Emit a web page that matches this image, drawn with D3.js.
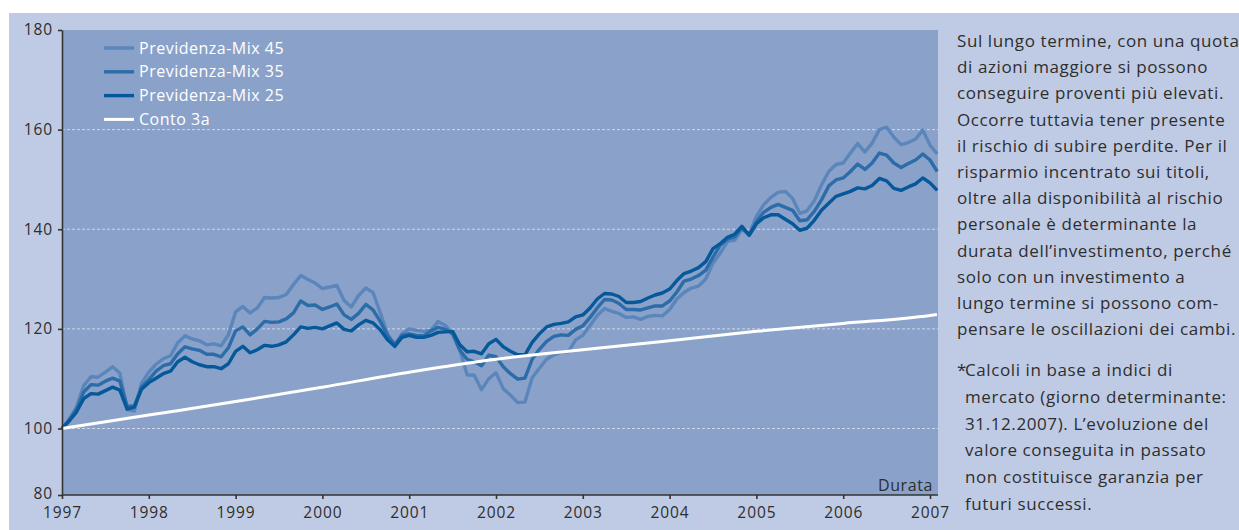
<!DOCTYPE html>
<html>
<head>
<meta charset="utf-8">
<script src="https://cdn.jsdelivr.net/npm/d3@7"></script>
<style>
  body { margin: 0; background: #fff; }
  svg { display: block; font-family: 'Open Sans', sans-serif; }
</style>
</head>
<body>
<div id="chart"></div>
<script>
// monthly index values, Jan 1997 = 100
const mix45 = [
  100, 101.9, 104.3, 108.6, 110.4, 110.3, 111.3, 112.4, 111.1, 103.8, 103.5, 109.1,
  111.3, 112.9, 114.0, 114.6, 117.2, 118.6, 118.0, 117.6, 116.8, 117.0, 116.6, 118.8,
  123.4, 124.5, 123.2, 124.2, 126.3, 126.2, 126.3, 126.9, 128.9, 130.7, 129.9, 129.2,
  128.1, 128.4, 128.7, 125.7, 124.4, 126.7, 128.2, 127.3, 123.2, 119.0, 116.4, 119.0,
  120.0, 119.7, 119.5, 119.7, 121.5, 120.7, 118.8, 115.8, 110.8, 110.7, 107.8, 110.0,
  111.2, 108.0, 106.7, 105.2, 105.3, 110.2, 112.1, 113.9, 114.8, 115.3, 115.4, 117.8,
  118.7, 120.7, 122.7, 124.1, 123.5, 123.1, 122.3, 122.4, 121.9, 122.5, 122.7, 122.6,
  123.9, 126.0, 127.3, 128.2, 128.6, 130.0, 133.2, 135.2, 137.5, 137.8, 140.0, 139.0,
  142.6, 144.9, 146.4, 147.4, 147.6, 146.2, 143.2, 143.7, 145.7, 148.9, 151.6, 153.0,
  153.3, 155.3, 157.2, 155.5, 157.3, 160.0, 160.5, 158.5, 157.0, 157.4, 158.1, 159.9,
  156.9, 155.1
];
const mix35 = [
  100, 101.7, 103.8, 107.3, 108.8, 108.7, 109.5, 110.1, 109.5, 104.5, 104.5, 108.3,
  109.8, 111.5, 112.6, 113.0, 115.0, 116.4, 116.0, 115.7, 114.9, 114.9, 114.4, 116.2,
  119.6, 120.4, 118.8, 120.0, 121.5, 121.3, 121.4, 122.0, 123.2, 125.6, 124.7, 124.8,
  123.9, 124.4, 125.0, 122.8, 121.9, 123.1, 124.9, 123.8, 121.5, 118.7, 116.9, 118.7,
  119.0, 118.7, 118.6, 119.6, 120.3, 119.9, 119.1, 115.7, 113.9, 113.4, 112.6, 114.7,
  114.4, 112.4, 111.0, 109.9, 110.1, 113.9, 115.9, 117.5, 118.5, 118.8, 118.7, 119.9,
  120.6, 122.3, 124.2, 125.9, 125.8, 125.1, 123.9, 123.9, 123.8, 124.2, 124.6, 124.6,
  125.6, 127.4, 129.6, 130.0, 130.7, 131.8, 134.4, 136.8, 138.0, 138.5, 140.3, 138.8,
  141.5, 143.4, 144.4, 145.0, 144.4, 143.8, 141.7, 141.9, 143.6, 145.9, 148.7, 149.9,
  150.3, 151.6, 153.1, 152.0, 153.3, 155.3, 154.9, 153.3, 152.4, 153.2, 153.9, 155.1,
  153.9, 151.6
];
const mix25 = [
  100, 101.5, 103.3, 106.0, 107.0, 106.9, 107.6, 108.3, 107.7, 103.9, 104.3, 107.9,
  109.2, 110.1, 111.0, 111.5, 113.4, 114.3, 113.4, 112.8, 112.4, 112.4, 112.0, 113.0,
  115.5, 116.5, 115.2, 115.8, 116.7, 116.5, 116.8, 117.4, 118.8, 120.4, 120.1, 120.3,
  120.0, 120.6, 121.2, 119.9, 119.6, 120.8, 121.7, 121.2, 119.8, 117.8, 116.5, 118.3,
  118.7, 118.3, 118.3, 118.7, 119.3, 119.4, 119.5, 116.8, 115.4, 115.5, 115.0, 117.0,
  117.9, 116.4, 115.5, 114.8, 114.8, 117.3, 119.0, 120.4, 120.9, 121.1, 121.4, 122.4,
  122.8, 124.2, 126.0, 127.1, 127.0, 126.5, 125.3, 125.3, 125.5, 126.2, 126.8, 127.2,
  128.0, 129.7, 131.1, 131.6, 132.3, 133.5, 136.1, 137.1, 138.4, 139.0, 140.6, 138.8,
  141.1, 142.3, 142.9, 142.9, 142.0, 141.1, 139.8, 140.2, 141.8, 143.8, 145.2, 146.6,
  147.1, 147.6, 148.3, 148.1, 148.8, 150.2, 149.7, 148.2, 147.8, 148.5, 149.1, 150.3,
  149.3, 147.8
];
const contoYears = [1997, 1998, 1999, 2000, 2001, 2002, 2003, 2004, 2005, 2006, 2007, 2007.08];
const conto3a = [100, 102.7, 105.4, 108.3, 111.3, 113.9, 115.8, 117.6, 119.5, 121.1, 122.7, 122.9];

const yearTicks = [1997, 1998, 1999, 2000, 2001, 2002, 2003, 2004, 2005, 2006, 2007];
const valueTicks = [80, 100, 120, 140, 160, 180];
const gridTicks = [100, 120, 140, 160];
const legendNames = ['Previdenza-Mix 45', 'Previdenza-Mix 35', 'Previdenza-Mix 25', 'Conto 3a'];

const noteLines = [
  'Sul lungo termine, con una quota',
  'di azioni maggiore si possono',
  'conseguire proventi più elevati.',
  'Occorre tuttavia tener presente',
  'il rischio di subire perdite. Per il',
  'risparmio incentrato sui titoli,',
  'oltre alla disponibilità al rischio',
  'personale è determinante la',
  'durata dell’investimento, perché',
  'solo con un investimento a',
  'lungo termine si possono com-',
  'pensare le oscillazioni dei cambi.',
];
const footLines = [
  'Calcoli in base a indici di',
  'mercato (giorno determinante:',
  '31.12.2007). L’evoluzione del',
  'valore conseguita in passato',
  'non costituisce garanzia per',
  'futuri successi.',
];

function createChart() {
  const width = 1239;
  const height = 530;
  const plot = { left: 62, right: 938, top: 30, bottom: 495 };
  const colors = ['#5a86bb', '#2b6ca9', '#05589a', '#ffffff'];
  const textColor = '#2e2e2e';

  const xScale = d3.scaleLinear()
    .domain([1997, 2007])
    .range([plot.left, 930]);

  // the 80-100 band is squeezed in the original
  const yScale = d3.scaleLinear()
    .domain([80, 100, 180])
    .range([plot.bottom, 428.5, plot.top]);

  const chart = function wrapper(selection) {
    const svg = d3.select(selection).append('svg')
      .attr('width', width)
      .attr('height', height);

    setupBackground(svg);
    setupGrid(svg);
    setupLines(svg);
    setupAxes(svg);
    setupLegend(svg);
    setupNotes(svg);
  };

  function setupBackground(svg) {
    svg.append('rect')
      .attr('x', 9)
      .attr('y', 13)
      .attr('width', width - 9)
      .attr('height', height - 13)
      .attr('fill', '#bfcbe4');

    svg.append('rect')
      .attr('x', plot.left)
      .attr('y', plot.top)
      .attr('width', plot.right - plot.left)
      .attr('height', plot.bottom - plot.top)
      .attr('fill', '#8aa2ca');
  }

  function setupGrid(svg) {
    svg.append('g')
      .selectAll('line')
      .data(gridTicks)
      .enter()
      .append('line')
      .attr('x1', plot.left)
      .attr('x2', plot.right)
      .attr('y1', d => yScale(d))
      .attr('y2', d => yScale(d))
      .attr('stroke', '#cdd7ea')
      .attr('stroke-width', 1)
      .attr('stroke-dasharray', '3,2');
  }

  function setupLines(svg) {
    const monthLine = d3.line()
      .x((d, i) => xScale(1997 + i / 12))
      .y(d => yScale(d));

    [mix45, mix35, mix25].forEach((values, i) => {
      svg.append('path')
        .datum(values)
        .attr('fill', 'none')
        .attr('stroke', colors[i])
        .attr('stroke-width', 3.4)
        .attr('stroke-linejoin', 'round')
        .attr('d', monthLine);
    });

    const contoLine = d3.line()
      .curve(d3.curveMonotoneX)
      .x((d, i) => xScale(contoYears[i]))
      .y(d => yScale(d));

    svg.append('path')
      .datum(conto3a)
      .attr('fill', 'none')
      .attr('stroke', colors[3])
      .attr('stroke-width', 3)
      .attr('d', contoLine);
  }

  function setupAxes(svg) {
    const yAxis = d3.axisLeft(yScale)
      .tickValues(valueTicks)
      .tickSize(4)
      .tickSizeOuter(0)
      .tickPadding(5);

    const gy = svg.append('g')
      .attr('class', 'axis axis--y')
      .attr('transform', `translate(${plot.left},0)`)
      .call(yAxis);

    const xAxis = d3.axisBottom(xScale)
      .tickValues(yearTicks)
      .tickFormat(d3.format('d'))
      .tickSize(4)
      .tickPadding(8);

    const gx = svg.append('g')
      .attr('class', 'axis axis--x')
      .attr('transform', `translate(0,${plot.bottom})`)
      .call(xAxis);
    gx.select('.domain').remove();

    gx.append('line')
      .attr('x1', plot.left)
      .attr('x2', plot.right)
      .attr('stroke', '#333');

    [gx, gy].forEach((g) => {
      g.attr('font-family', null).attr('font-size', null);
      g.selectAll('line, .domain')
        .attr('stroke', '#333')
        .attr('stroke-width', 1.6);
      g.selectAll('text')
        .attr('fill', textColor)
        .style('font-size', '15.5px')
        .style('letter-spacing', '0.9px');
    });

    // keep the lowest value label clear of the first year label
    gy.selectAll('.tick text')
      .filter(d => d === 80)
      .attr('dy', '0.2em');

    svg.append('text')
      .attr('x', 933)
      .attr('y', 491)
      .attr('text-anchor', 'end')
      .attr('fill', textColor)
      .style('font-size', '16px')
      .style('letter-spacing', '0.6px')
      .text('Durata');
  }

  function setupLegend(svg) {
    const item = svg.append('g')
      .selectAll('g')
      .data(legendNames)
      .enter()
      .append('g')
      .attr('transform', (d, i) => `translate(104,${48 + i * 23.8})`);

    item.append('line')
      .attr('x1', 0)
      .attr('x2', 30)
      .attr('stroke', (d, i) => colors[i])
      .attr('stroke-width', (d, i) => (i === 3 ? 3 : 3.4));

    item.append('text')
      .attr('x', 35)
      .attr('dy', '0.35em')
      .attr('fill', '#fff')
      .style('font-size', '16px')
      .style('letter-spacing', '0.5px')
      .text(d => d);
  }

  function setupNotes(svg) {
    const lineHeight = 26.2;
    const footHeight = 26.8;
    const fontSize = '17px';
    const spacing = '0.6px';

    svg.append('g')
      .selectAll('text')
      .data(noteLines)
      .enter()
      .append('text')
      .attr('x', 957)
      .attr('y', (d, i) => 47 + i * lineHeight)
      .attr('fill', textColor)
      .style('font-size', fontSize)
      .style('letter-spacing', spacing)
      .text(d => d);

    const footTop = 376;

    svg.append('text')
      .attr('x', 957)
      .attr('y', footTop)
      .attr('fill', textColor)
      .style('font-size', fontSize)
      .text('*');

    svg.append('g')
      .selectAll('text')
      .data(footLines)
      .enter()
      .append('text')
      .attr('x', 965)
      .attr('y', (d, i) => footTop + i * footHeight)
      .attr('fill', textColor)
      .style('font-size', fontSize)
      .style('letter-spacing', spacing)
      .text(d => d);
  }

  return chart;
}

createChart()('#chart');
</script>
</body>
</html>
